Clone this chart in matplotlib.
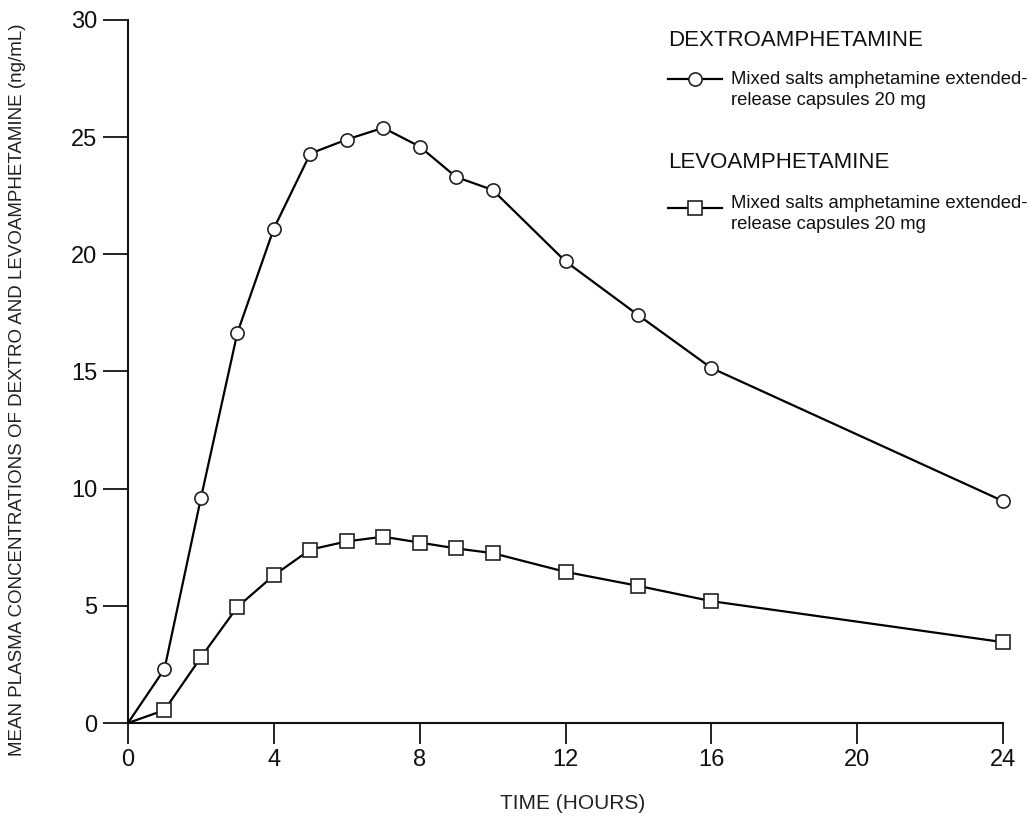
import matplotlib
matplotlib.use("Agg")
import matplotlib.pyplot as plt
from matplotlib.lines import Line2D

plt.rcParams['font.family'] = ['Liberation Sans', 'DejaVu Sans']

hours = [0, 1, 2, 3, 4, 5, 6, 7, 8, 9, 10, 12, 14, 16, 24]
dextro = [0, 2.3, 9.6, 16.65, 21.1, 24.3, 24.9, 25.4, 24.6, 23.3, 22.75, 19.7, 17.4, 15.15, 9.47]
levo = [0, 0.55, 2.8, 4.95, 6.3, 7.4, 7.75, 7.95, 7.7, 7.45, 7.25, 6.45, 5.85, 5.2, 3.45]
x_ticks = [0, 4, 8, 12, 16, 20, 24]
y_ticks = [0, 5, 10, 15, 20, 25, 30]
legend_title_1 = "DEXTROAMPHETAMINE"
legend_title_2 = "LEVOAMPHETAMINE"
legend_text = "Mixed salts amphetamine extended-\nrelease capsules 20 mg"
x_label = "TIME (HOURS)"
y_label = "MEAN PLASMA CONCENTRATIONS OF DEXTRO AND LEVOAMPHETAMINE (ng/mL)"

W, H = 1032, 816
fig = plt.figure(figsize=(W / 100, H / 100), dpi=100)
left, right, top, bottom = 128, 1003, 20, 723
ax = fig.add_axes([left / W, 1 - bottom / H, (right - left) / W, (bottom - top) / H])

marks = list(range(1, len(hours)))
ax.plot(hours, dextro, color='black', lw=1.6, marker='o', ms=9.5, markevery=marks,
        mfc='white', mec='#222222', mew=1.2, clip_on=False, zorder=3)
ax.plot(hours, levo, color='black', lw=1.6, marker='s', ms=9.5, markevery=marks,
        mfc='white', mec='#222222', mew=1.2, clip_on=False, zorder=3)

ax.set_xlim(0, 24)
ax.set_ylim(0, 30)
ax.set_xticks(x_ticks)
ax.set_yticks(y_ticks)
for s in ['top', 'right']:
    ax.spines[s].set_visible(False)
for s in ['left', 'bottom']:
    ax.spines[s].set_linewidth(1.5)
    ax.spines[s].set_color('#111111')
ax.tick_params(axis='y', direction='out', length=18, width=1.3, pad=4, labelsize=17, colors='#111111')
ax.tick_params(axis='x', direction='out', length=15, width=1.3, pad=4, labelsize=17, colors='#111111')

ax.set_xlabel(x_label, fontsize=15, color='#222222')
ax.set_ylabel(y_label, fontsize=13.5, color='#222222')
ax.yaxis.set_label_coords(-(left - 26) / (right - left), 1 - (390 - top) / (bottom - top))
ax.xaxis.set_label_coords((573 - left) / (right - left), -(794 - bottom) / (bottom - top))

def fx(px):
    return px / W

def fy(py):
    return 1 - py / H

# legend (drawn manually)
fig.text(fx(668), fy(40), legend_title_1, fontsize=16, va='center', ha='left', color='#111111')
fig.add_artist(Line2D([fx(668), fx(722)], [fy(79), fy(79)], color='black', lw=1.6,
                      transform=fig.transFigure))
fig.add_artist(Line2D([fx(695)], [fy(79)], marker='o', ms=9.5, mfc='white', mec='#222222',
                      mew=1.2, transform=fig.transFigure))
fig.text(fx(731), fy(90), legend_text, fontsize=13.3, va='center', ha='left', color='#111111',
         linespacing=1.36)

fig.text(fx(668), fy(162), legend_title_2, fontsize=16, va='center', ha='left', color='#111111')
fig.add_artist(Line2D([fx(668), fx(722)], [fy(208), fy(208)], color='black', lw=1.6,
                      transform=fig.transFigure))
fig.add_artist(Line2D([fx(695)], [fy(208)], marker='s', ms=9.5, mfc='white', mec='#222222',
                      mew=1.2, transform=fig.transFigure))
fig.text(fx(731), fy(214), legend_text, fontsize=13.3, va='center', ha='left', color='#111111',
         linespacing=1.36)

fig.savefig("out.png", dpi=100)
